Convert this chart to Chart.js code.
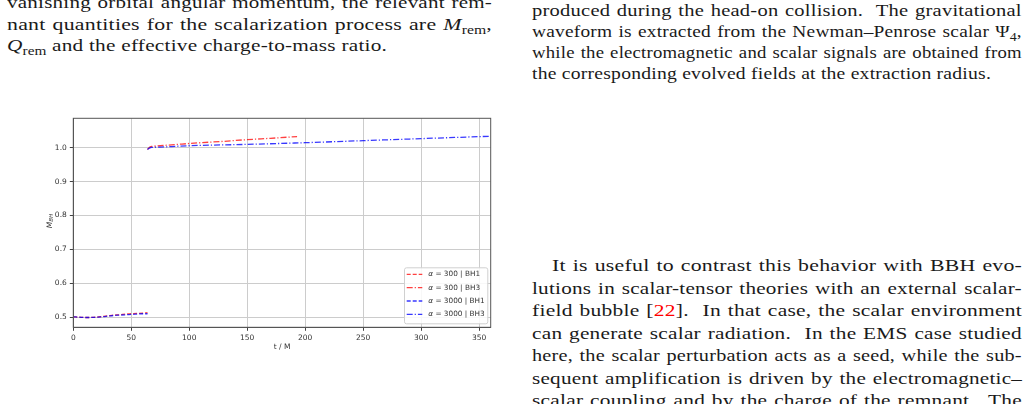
<!DOCTYPE html>
<html lang="en">
<head>
<meta charset="UTF-8">
<title>M_BH vs t</title>
<script src="https://cdn.jsdelivr.net/npm/chart.js"></script>
<style>
  html, body { margin: 0; padding: 0; background: #fff; }
  body { width: 1029px; height: 404px; position: relative; overflow: hidden; }
  .ln {
    position: absolute; height: 20px; line-height: 20px;
    font-family: "Liberation Serif", serif; font-size: 17.5px; color: #1a1a1a;
    white-space: nowrap; letter-spacing: 0.2px;
    text-align: justify; text-align-last: justify;
    transform-origin: 0 0;
  }
  .ln.last { text-align: left; text-align-last: left; }
  .ln sub { font-size: 0.72em; vertical-align: -0.28em; line-height: 0; font-style: normal; letter-spacing: 0; }
  .ln .ref { color: #ff0000; }
  #chartBox { position: absolute; left: 0; top: 100px; width: 500px; height: 260px; }
</style>
</head>
<body>
<!-- left column -->
<div class="ln" style="left:7px;width:485px;top:-8px">vanishing orbital angular momentum, the relevant rem-</div>
<div class="ln" style="left:7px;width:485px;top:14px">nant quantities for the scalarization process are <i>M</i><sub>rem</sub>,</div>
<div class="ln last" data-w="380" style="left:7px;width:485px;top:35px"><i>Q</i><sub>rem</sub> and the effective charge-to-mass ratio.</div>

<!-- right column -->
<div class="ln" style="left:532px;width:490px;top:0px">produced during the head-on collision.&nbsp; The gravitational</div>
<div class="ln" style="left:532px;width:490px;top:21px">waveform is extracted from the Newman–Penrose scalar Ψ<sub>4</sub>,</div>
<div class="ln" style="left:532px;width:490px;top:41.5px">while the electromagnetic and scalar signals are obtained from</div>
<div class="ln last" data-w="459" style="left:532px;width:490px;top:62.5px">the corresponding evolved fields at the extraction radius.</div>

<div class="ln" style="left:552px;width:470px;top:255px">It is useful to contrast this behavior with BBH evo-</div>
<div class="ln" style="left:532px;width:490px;top:277.5px">lutions in scalar-tensor theories with an external scalar-</div>
<div class="ln" style="left:532px;width:490px;top:300px">field bubble [<span class="ref">22</span>].&nbsp; In that case, the scalar environment</div>
<div class="ln" style="left:532px;width:490px;top:322.5px">can generate scalar radiation.&nbsp; In the EMS case studied</div>
<div class="ln" style="left:532px;width:490px;top:345px">here, the scalar perturbation acts as a seed, while the sub-</div>
<div class="ln" style="left:532px;width:490px;top:367.5px">sequent amplification is driven by the electromagnetic–</div>
<div class="ln" style="left:532px;width:490px;top:390px">scalar coupling and by the charge of the remnant.&nbsp; The</div>

<div id="chartBox"><canvas id="massChart" width="500" height="260"></canvas></div>

<script>
// ---- data ----
const tBH1 = [0, 5, 10, 15, 20, 25, 30, 35, 40, 45, 50, 55, 60, 64];
const mBH1_a300 = [0.501, 0.500, 0.499, 0.499, 0.500, 0.502, 0.504, 0.506, 0.507, 0.509, 0.510, 0.511, 0.512, 0.513];
const mBH1_a3000 = [0.501, 0.500, 0.499, 0.499, 0.500, 0.501, 0.503, 0.505, 0.506, 0.507, 0.508, 0.509, 0.510, 0.510];

const tBH3_a300 = [64, 65, 66, 68, 75, 90, 110, 130, 150, 170, 193];
const mBH3_a300 = [0.995, 0.999, 1.002, 1.004, 1.006, 1.010, 1.015, 1.019, 1.024, 1.028, 1.033];
const tBH3_a3000 = [64, 65, 66, 68, 75, 100, 150, 200, 250, 300, 360];
const mBH3_a3000 = [0.995, 0.998, 1.000, 1.001, 1.002, 1.006, 1.010, 1.015, 1.021, 1.027, 1.034];

const seriesLabels = ['α = 300 | BH1', 'α = 300 | BH3', 'α = 3000 | BH1', 'α = 3000 | BH3'];
const xTicksStep = 50;
const yTicksStep = 0.1;

const RED = 'rgba(255, 0, 0, 0.75)';
const BLUE = 'rgba(0, 0, 255, 0.78)';
const DASHED = [4, 2];
const DASHDOT = [6, 2, 1.2, 2];

// Times is narrower than the paper's font: stretch each line a little
document.querySelectorAll('.ln').forEach(el => {
    const W = el.clientWidth;
    el.style.textAlignLast = 'left';
    const r = document.createRange();
    r.selectNodeContents(el);
    const natural = r.getBoundingClientRect().width;
    let s;
    if (el.classList.contains('last')) {
        s = Number(el.dataset.w) / natural;
    } else {
        const gaps = (el.textContent.match(/\s/g) || []).length;
        s = W / (natural + gaps * 1.0);
        el.style.textAlignLast = '';
    }
    s = Math.max(1, Math.min(1.25, s));
    el.style.width = (W / s) + 'px';
    el.style.transform = 'scaleX(' + s.toFixed(3) + ')';
});

function pts(xs, ys) {
    return xs.map((x, i) => ({ x: x, y: ys[i] }));
}

function line(label, xs, ys, color, dash, order) {
    return {
        label: label,
        data: pts(xs, ys),
        borderColor: color,
        borderDash: dash,
        borderWidth: 1.3,
        pointRadius: 0,
        fill: false,
        tension: 0.4,
        cubicInterpolationMode: 'monotone',
        order: order
    };
}

const FONT = '"DejaVu Sans", sans-serif';

// matplotlib-style extras: full box, legend inside axes, axis titles
const extras = {
    id: 'extras',
    afterDraw(chart) {
        const c = chart.ctx;
        const a = chart.chartArea;
        c.save();
        c.strokeStyle = '#555';
        c.lineWidth = 1;
        c.strokeRect(a.left, a.top, a.right - a.left, a.bottom - a.top);

        // axis titles
        c.fillStyle = '#333';
        c.textAlign = 'center';
        c.textBaseline = 'middle';
        c.font = '7.5px ' + FONT;
        c.fillText('t / M', (a.left + a.right) / 2, 246.7);

        c.save();
        c.translate(50.7, 121);
        c.rotate(-Math.PI / 2);
        c.textAlign = 'left';
        c.font = 'italic 7.5px ' + FONT;
        const wM = c.measureText('M').width;
        c.font = 'italic 5.5px ' + FONT;
        const wS = c.measureText('BH').width;
        const x0 = -(wM + wS) / 2;
        c.font = 'italic 7.5px ' + FONT;
        c.fillText('M', x0, -1);
        c.font = 'italic 5.5px ' + FONT;
        c.fillText('BH', x0 + wM, 1.2);
        c.restore();

        // legend box
        const bx = 404, by = 167.3, bw = 83.3, bh = 56;
        c.fillStyle = 'rgba(255,255,255,0.85)';
        c.strokeStyle = '#d0d0d0';
        c.lineWidth = 1;
        c.beginPath();
        c.roundRect(bx + 0.5, by + 0.5, bw, bh, 2);
        c.fill();
        c.stroke();

        const rows = [174.3, 187.7, 201, 214.3];
        chart.data.datasets.forEach((ds, i) => {
            const y = rows[i];
            c.strokeStyle = ds.borderColor;
            c.lineWidth = 1.3;
            c.setLineDash(ds.borderDash);
            c.beginPath();
            c.moveTo(406.7, y);
            c.lineTo(422.3, y);
            c.stroke();
            c.setLineDash([]);

            c.fillStyle = '#333';
            c.textAlign = 'left';
            c.textBaseline = 'middle';
            c.font = 'italic 7.3px ' + FONT;
            const greek = ds.label.charAt(0);
            c.fillText(greek, 428.3, y);
            const wg = c.measureText(greek).width;
            c.font = '7.3px ' + FONT;
            c.fillText(ds.label.slice(1), 428.3 + wg, y);
        });
        c.restore();
    }
};

const ctx = document.getElementById('massChart').getContext('2d');
const chart = new Chart(ctx, {
    type: 'line',
    data: {
        datasets: [
            line(seriesLabels[0], tBH1, mBH1_a300, RED, DASHED, 1),
            line(seriesLabels[1], tBH3_a300, mBH3_a300, RED, DASHDOT, 1),
            line(seriesLabels[2], tBH1, mBH1_a3000, BLUE, DASHED, 0),
            line(seriesLabels[3], tBH3_a3000, mBH3_a3000, BLUE, DASHDOT, 0)
        ]
    },
    options: {
        responsive: false,
        animation: false,
        devicePixelRatio: 1,
        layout: { padding: { left: 0, right: 9.3, top: 18.3, bottom: 0 } },
        plugins: {
            legend: { display: false },
            tooltip: { enabled: false }
        },
        scales: {
            x: {
                type: 'linear',
                min: 0,
                max: 360,
                afterFit: function(scale) { scale.height = 32.7; },
                grid: { color: '#cccccc', lineWidth: 1, tickLength: 3.5, tickColor: '#444' },
                border: { display: true, color: '#555', width: 1 },
                ticks: {
                    stepSize: xTicksStep,
                    includeBounds: false,
                    maxRotation: 0,
                    padding: 2.5,
                    color: '#333',
                    font: { family: FONT, size: 7.5 },
                    callback: function(value) { return String(value); }
                }
            },
            y: {
                type: 'linear',
                min: 0.47,
                max: 1.087,
                afterFit: function(scale) { scale.width = 73.3; },
                grid: { color: '#cccccc', lineWidth: 1, tickLength: 3.5, tickColor: '#444' },
                border: { display: true, color: '#555', width: 1 },
                ticks: {
                    stepSize: yTicksStep,
                    includeBounds: false,
                    padding: 3,
                    color: '#333',
                    font: { family: FONT, size: 7.5 },
                    callback: function(value) { return value.toFixed(1); }
                }
            }
        }
    },
    plugins: [extras]
});
</script>
</body>
</html>
